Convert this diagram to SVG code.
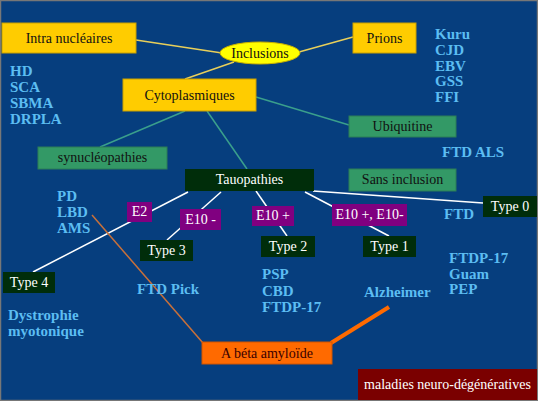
<svg xmlns="http://www.w3.org/2000/svg" width="538" height="401" viewBox="0 0 538 401">
<style>
text{font-family:"Liberation Serif","DejaVu Serif",serif}
.gold{fill:#ffcc00;stroke:#c9a000;stroke-width:1}
.grn{fill:#339966;stroke:#2d7d57;stroke-width:1}
.dk{fill:#002d0a}
.pur{fill:#800080}
.lbl{font-size:14px;fill:#111;text-anchor:middle}
.wl{font-size:14px;fill:#fff;text-anchor:middle}
.blue{font-size:15px;font-weight:bold;fill:#5cbdf2}
.yl{stroke:#e8cf5a;stroke-width:1.5;fill:none}
.tl{stroke:#3a9f8c;stroke-width:1.5;fill:none}
.wh{stroke:#fff;stroke-width:1.5;fill:none}
</style>
<rect x="0" y="0" width="538" height="401" fill="#063e7e"/>
<rect x="0.5" y="0.5" width="537" height="400" fill="none" stroke="#777" stroke-width="1.5"/>
<g id="connectors">
<line class="yl" x1="136" y1="40" x2="222" y2="53"/>
<line class="yl" x1="299" y1="52" x2="353" y2="37"/>
<line class="yl" x1="234" y1="62" x2="185" y2="79"/>
<line class="tl" x1="185" y1="111" x2="100" y2="147"/>
<line class="tl" x1="207" y1="111" x2="247" y2="169"/>
<line class="tl" x1="256" y1="97" x2="349" y2="125"/>
<line class="wh" x1="188" y1="192" x2="33" y2="272"/>
<line class="wh" x1="221" y1="192" x2="167" y2="240"/>
<line class="wh" x1="256" y1="191" x2="287" y2="236"/>
<line class="wh" x1="305" y1="192" x2="389" y2="236"/>
<line class="wh" x1="313" y1="191" x2="483" y2="203"/>
<line x1="92" y1="215" x2="203" y2="343" stroke="#c8703a" stroke-width="1.5"/>
<line x1="331" y1="343" x2="389" y2="307" stroke="#ff6a00" stroke-width="4"/>
</g>
<g id="intra"><rect class="gold" x="2" y="23" width="134" height="30"/><text class="lbl" x="69" y="43">Intra nucléaires</text></g>
<g id="inclusions"><ellipse cx="260" cy="53" rx="40" ry="11" fill="#ffff00" stroke="#c9b000"/><text class="lbl" x="260" y="58">Inclusions</text></g>
<g id="prions"><rect class="gold" x="353" y="23" width="63" height="30"/><text class="lbl" x="384.5" y="43">Prions</text></g>
<g id="cyto"><rect class="gold" x="123" y="79" width="133" height="32"/><text class="lbl" x="189.5" y="100">Cytoplasmiques</text></g>
<g id="ubiquitine"><rect class="grn" x="349" y="116" width="107" height="21"/><text class="lbl" x="402.5" y="131">Ubiquitine</text></g>
<g id="synuc"><rect class="grn" x="38" y="147" width="129" height="22"/><text class="lbl" x="102.5" y="162">synucléopathies</text></g>
<g id="tauo"><rect class="dk" x="185" y="169" width="129" height="22"/><text class="wl" x="249.5" y="184">Tauopathies</text></g>
<g id="sans"><rect class="grn" x="349" y="169" width="107" height="22"/><text class="lbl" x="402.5" y="184">Sans inclusion</text></g>
<g id="e2"><rect class="pur" x="127" y="202" width="25" height="20"/><text class="wl" x="139.5" y="216">E2</text></g>
<g id="e10m"><rect class="pur" x="180" y="209" width="41" height="21"/><text class="wl" x="200.5" y="224">E10 -</text></g>
<g id="e10p"><rect class="pur" x="252" y="206" width="42" height="20"/><text class="wl" x="273" y="220">E10 +</text></g>
<g id="e10pm"><rect class="pur" x="332" y="204" width="75" height="22"/><text class="wl" x="369.5" y="219">E10 +, E10-</text></g>
<g id="type0"><rect class="dk" x="483" y="196" width="54" height="21"/><text class="wl" x="510" y="211">Type 0</text></g>
<g id="type3"><rect class="dk" x="140" y="240" width="53" height="21"/><text class="wl" x="166.5" y="255">Type 3</text></g>
<g id="type2"><rect class="dk" x="261" y="236" width="54" height="21"/><text class="wl" x="288" y="251">Type 2</text></g>
<g id="type1"><rect class="dk" x="363" y="236" width="53" height="21"/><text class="wl" x="389.5" y="251">Type 1</text></g>
<g id="type4"><rect class="dk" x="3" y="272" width="52" height="21"/><text class="wl" x="29" y="287">Type 4</text></g>
<g id="abeta"><rect x="202" y="342" width="130" height="22" fill="#ff6a00" stroke="#d05500"/><text x="267" y="358" font-size="14" fill="#3a0000" text-anchor="middle">A béta amyloïde</text></g>
<g id="maladies"><rect x="358" y="369" width="179" height="31" fill="#7a0000"/><text class="wl" x="447.5" y="389">maladies neuro-dégénératives</text></g>
<g id="lists">
<text class="blue" x="10" y="76">HD</text>
<text class="blue" x="10" y="92">SCA</text>
<text class="blue" x="10" y="108">SBMA</text>
<text class="blue" x="10" y="124">DRPLA</text>
<text class="blue" x="435" y="39">Kuru</text>
<text class="blue" x="435" y="55">CJD</text>
<text class="blue" x="435" y="71">EBV</text>
<text class="blue" x="435" y="86">GSS</text>
<text class="blue" x="435" y="102">FFI</text>
<text class="blue" x="442" y="157">FTD ALS</text>
<text class="blue" x="57" y="201">PD</text>
<text class="blue" x="57" y="217">LBD</text>
<text class="blue" x="57" y="233">AMS</text>
<text class="blue" x="444" y="219">FTD</text>
<text class="blue" x="449" y="263">FTDP-17</text>
<text class="blue" x="449" y="279">Guam</text>
<text class="blue" x="449" y="294">PEP</text>
<text class="blue" x="137" y="294">FTD Pick</text>
<text class="blue" x="262" y="279">PSP</text>
<text class="blue" x="262" y="296">CBD</text>
<text class="blue" x="262" y="312">FTDP-17</text>
<text class="blue" x="364" y="297">Alzheimer</text>
<text class="blue" x="8" y="320">Dystrophie</text>
<text class="blue" x="8" y="336">myotonique</text>
</g>
</svg>
